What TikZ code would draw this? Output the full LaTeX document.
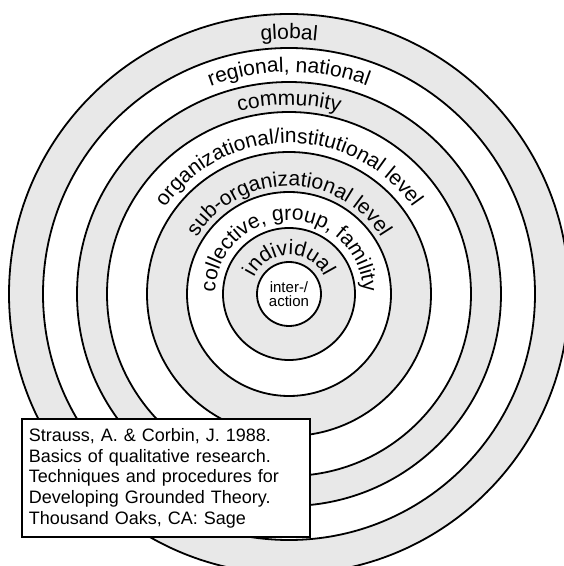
\documentclass[tikz,border=0pt]{standalone}
\usepackage{fontspec}
\setmainfont{Liberation Sans}
\usepackage{tikz}
\usetikzlibrary{decorations.text}
\colorlet{bandgray}{gray!18}
\tikzstyle{ring} = [circle, draw=black, line width=1.8pt, inner sep=0pt]
\tikzstyle{arclabel} = [decorate, decoration={text along path, text align=center}]
\tikzstyle{source} = [rectangle, draw=black, line width=1.7pt, fill=white, align=left, anchor=south west, inner xsep=7pt, text width=274pt, minimum height=118pt]
\newcommand{\ringfont}{\fontsize{21}{25}\selectfont}
\newcommand{\corefont}{\fontsize{15}{14.5}\selectfont}
\newcommand{\sourcefont}{\fontsize{18}{20.8}\selectfont}

\begin{document}
\begin{tikzpicture}[x=1pt, y=1pt]
\useasboundingbox (0,0) rectangle (564,566);
\clip (0,0) rectangle (564,566);
\coordinate (centre) at (289,272);
\foreach \r/\shade [count=\i] in {280/bandgray, 246/white, 212/bandgray, 182/white, 142/bandgray, 102/white, 66/bandgray, 32/white}
  \node[ring, fill=\shade, minimum size={2*\r*1pt}] (ring\i) at (centre) {};
\node[font=\corefont, align=center] (core) at (centre) {inter-/\\action};
\path[arclabel, decoration={text={|\ringfont|global}}] (centre) ++(180:255) arc[start angle=180, end angle=0, radius=255];
\path[arclabel, decoration={text={|\ringfont|regional, national}}] (centre) ++(180:222) arc[start angle=180, end angle=0, radius=222];
\path[arclabel, decoration={text={|\ringfont|community}}] (centre) ++(180:189) arc[start angle=180, end angle=0, radius=189];
\path[arclabel, decoration={text={|\ringfont|organizational/institutional level}}] (centre) ++(180:151) arc[start angle=180, end angle=0, radius=151];
\path[arclabel, decoration={text={|\ringfont|sub-organizational level}}] (centre) ++(180:108) arc[start angle=180, end angle=0, radius=108];
\path[arclabel, decoration={text={|\ringfont|collective, group, famility}}] (centre) ++(180:74) arc[start angle=180, end angle=0, radius=74];
\path[arclabel, decoration={text={|\ringfont|individual}}] (centre) ++(180:39) arc[start angle=180, end angle=0, radius=39];
\node[source, font=\sourcefont] (ref) at (21,28) {Strauss, A. \& Corbin, J. 1988.\\Basics of qualitative research.\\Techniques and procedures for\\Developing Grounded Theory.\\Thousand Oaks, CA: Sage};
\end{tikzpicture}
\end{document}
